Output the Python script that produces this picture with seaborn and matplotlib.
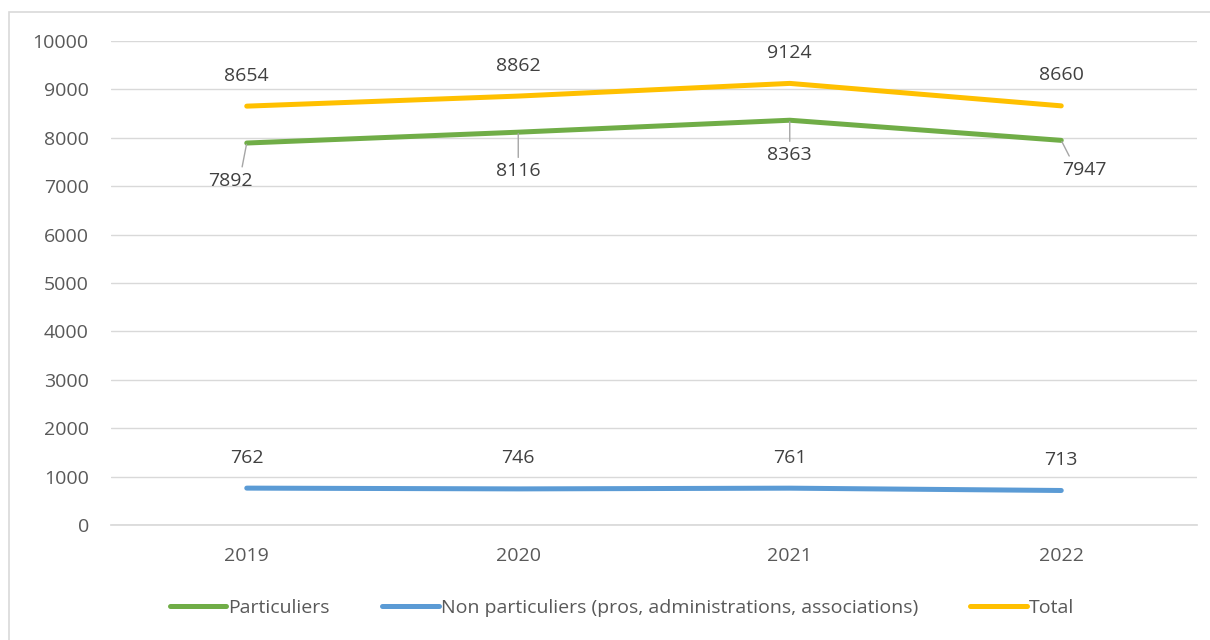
import matplotlib
matplotlib.use("Agg")
import matplotlib.pyplot as plt
import matplotlib.patches as mpatches
import seaborn as sns
import pandas as pd

years = ["2019", "2020", "2021", "2022"]
particuliers = [7892, 8116, 8363, 7947]
non_particuliers = [762, 746, 761, 713]
total = [8654, 8862, 9124, 8660]
series_names = ["Particuliers",
                "Non particuliers (pros, administrations, associations)",
                "Total"]
colors = ["#70AD47", "#5B9BD5", "#FFC000"]
yticks = [0, 1000, 2000, 3000, 4000, 5000, 6000, 7000, 8000, 9000, 10000]

rows = []
for name, vals in zip(series_names, [particuliers, non_particuliers, total]):
    for i, (y, v) in enumerate(zip(years, vals)):
        rows.append({"year": y, "idx": i, "value": v, "series": name})
df = pd.DataFrame(rows)

sns.set_theme(style="white")
plt.rcParams["font.family"] = ["Open Sans", "DejaVu Sans"]

FS = 14

fig = plt.figure(figsize=(12.1, 6.4), dpi=100)
ax = fig.add_axes([111 / 1210, 1 - 525 / 640, (1197 - 111) / 1210, (525 - 41) / 640])

sns.lineplot(data=df, x="idx", y="value", hue="series", palette=colors,
             hue_order=series_names, linewidth=3.6, ax=ax, legend=True,
             solid_capstyle="round")

ax.set_xlim(-0.5, 3.5)
ax.set_ylim(0, 10000)
ax.set_yticks(yticks)
ax.set_yticklabels([str(t) for t in yticks])
ax.set_xticks(range(len(years)))
ax.set_xticklabels(years)
ax.set_xlabel("")
ax.set_ylabel("")
ax.grid(axis="y", color="#D9D9D9", linewidth=1)
ax.set_axisbelow(True)
for s in ["top", "right", "left"]:
    ax.spines[s].set_visible(False)
ax.spines["bottom"].set_color("#D9D9D9")
ax.tick_params(axis="both", length=0, labelsize=FS, colors="#595959")
ax.tick_params(axis="x", pad=16)
ax.tick_params(axis="y", pad=16)

lab_kw = dict(fontsize=FS, color="#404040", ha="center", va="center")
# Total labels above
for i, v in enumerate(total):
    ax.annotate(str(v), (i, v), xytext=(0, 22), textcoords="offset points", **lab_kw)
# Non particuliers labels above
for i, v in enumerate(non_particuliers):
    ax.annotate(str(v), (i, v), xytext=(0, 22), textcoords="offset points", **lab_kw)
# Particuliers labels below with leader lines
offsets = [(-12, -27), (0, -28), (0, -25), (17, -21)]
relpos = [(0.75, 1.0), (0.5, 1.0), (0.5, 1.0), (0.2, 1.0)]
for i, v in enumerate(particuliers):
    ax.annotate(str(v), (i, v), xytext=offsets[i], textcoords="offset points",
                arrowprops=dict(arrowstyle="-", color="#A6A6A6", lw=1,
                                shrinkA=1, shrinkB=1, relpos=relpos[i]),
                **lab_kw)

handles, labels = ax.get_legend_handles_labels()
ax.legend(handles, labels, loc="center",
          bbox_to_anchor=((622 - 111) / 1086, (608 - 525) / -484),
          ncol=3, frameon=False, fontsize=FS, handlelength=2.9,
          handletextpad=0.1, columnspacing=2.7, labelcolor="#595959")

fig.patches.append(mpatches.Rectangle((9 / 1210, -0.1), 1.2, 1 - 12 / 640 + 0.1,
                                      transform=fig.transFigure, fill=False,
                                      edgecolor="#D9D9D9", linewidth=1.2))

fig.savefig("out.png", dpi=100, facecolor="white")
